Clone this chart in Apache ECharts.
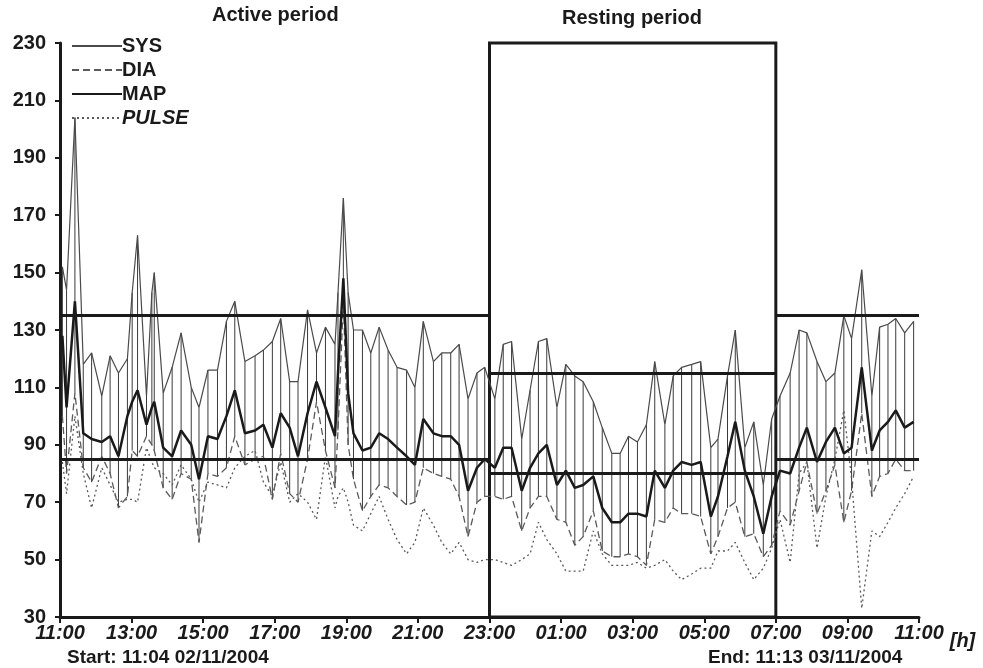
<!DOCTYPE html>
<html>
<head>
<meta charset="utf-8">
<script src="https://cdn.jsdelivr.net/npm/echarts@6/dist/echarts.min.js"></script>
<style>
  html, body { margin: 0; padding: 0; background: #fff; }
  #chart { width: 983px; height: 668px; }
</style>
</head>
<body>
<div id="chart"></div>
<script>
// measurement times (hh:mm), 02/11/2004 11:04 -> 03/11/2004
var times = ["11:04","11:11","11:25","11:39","11:53","12:10","12:24","12:38","12:53","13:01",
  "13:10","13:25","13:34","13:38","13:53","14:08","14:23","14:40","14:53","15:08",
  "15:24","15:39","15:53","16:10","16:27","16:41","16:56","17:10","17:25","17:39",
  "17:55","18:10","18:25","18:41","18:46","18:55","19:03","19:12","19:27","19:41",
  "19:55","20:10","20:25","20:41","20:55","21:09","21:26","21:40","21:55","22:09",
  "22:24","22:39","22:52","23:09","23:23","23:37","23:54","00:08","00:22","00:36",
  "00:53","01:08","01:23","01:37","01:54","02:09","02:25","02:39","02:53","03:08",
  "03:23","03:37","03:54","04:08","04:22","04:39","04:54","05:11","05:23","05:39",
  "05:52","06:08","06:23","06:39","06:53","07:07","07:24","07:39","07:52","08:09",
  "08:24","08:39","08:54","09:07","09:24","09:41","09:54","10:08","10:21","10:36","10:51"];

var sys = [152,144,204,118,122,107,121,115,120,143,
  163,107,143,150,108,117,129,110,103,116,
  116,133,140,119,121,123,126,134,112,112,
  137,122,131,125,143,176,143,130,130,122,
  131,123,117,116,110,133,119,122,122,125,
  106,115,117,106,125,126,92,109,126,127,
  103,118,114,112,105,96,87,87,93,91,
  97,119,97,114,117,118,119,89,92,114,
  130,89,98,76,99,107,115,130,129,119,
  112,115,135,127,151,107,131,132,134,129,133];

var dia = [100,80,108,82,77,86,80,68,72,88,
  86,93,90,88,75,71,80,78,56,80,
  79,82,93,83,85,86,71,87,73,70,
  85,105,88,75,95,140,90,78,67,72,
  76,75,72,69,70,82,80,79,78,72,
  58,70,72,72,71,72,60,68,72,72,
  64,63,55,58,67,53,51,51,52,51,
  48,64,63,68,66,66,65,52,58,68,
  70,58,59,51,55,67,62,74,84,66,
  74,83,63,74,101,72,79,80,85,81,81];

var map = [128,103,140,94,92,91,93,86,100,105,
  109,97,103,105,89,86,95,90,78,93,
  92,100,109,94,95,97,89,101,96,86,
  101,112,103,93,115,148,108,94,88,89,
  94,92,89,86,83,99,94,93,93,90,
  74,82,85,82,89,89,74,82,87,90,
  76,81,75,76,79,68,63,63,66,66,
  65,81,75,81,84,83,84,65,72,86,
  98,81,72,59,72,81,80,89,96,84,
  91,96,87,89,117,88,95,98,102,96,98];

var pulse = [84,73,100,80,68,82,76,70,71,71,
  70,89,84,82,80,76,83,78,70,77,
  76,75,82,86,88,77,72,84,70,73,
  70,64,86,68,72,75,70,62,60,66,
  72,64,57,52,56,68,62,56,52,56,
  50,49,50,50,49,48,50,52,63,57,
  52,46,46,46,60,52,48,48,48,49,
  47,48,50,46,43,45,47,47,53,53,
  56,49,43,47,54,64,49,80,84,54,
  72,85,102,78,33,60,58,63,68,73,79];

// limits per period: [from h, to h, systolic limit, diastolic limit]
var periods = [[11, 23, 135, 85], [23, 31, 115, 80], [31, 35, 135, 85]];
var restFrom = 23, restTo = 31;

var xTickLabels = ["11:00","13:00","15:00","17:00","19:00","21:00","23:00",
  "01:00","03:00","05:00","07:00","09:00","11:00"];

function toHour(s) {
  var p = s.split(':');
  var h = +p[0] + (+p[1]) / 60;
  return h < 11 ? h + 24 : h;
}

var hrs = times.map(toHour);
function pairs(arr) { return hrs.map(function (h, i) { return [h, arr[i]]; }); }

var limitLines = [];
periods.forEach(function (p) {
  limitLines.push([{ coord: [p[0], p[2]] }, { coord: [p[1], p[2]] }]);
  limitLines.push([{ coord: [p[0], p[3]] }, { coord: [p[1], p[3]] }]);
});

var font = '"Liberation Sans", Arial, sans-serif';

var chart = echarts.init(document.getElementById('chart'));
chart.setOption({
  animation: false,
  backgroundColor: '#fff',
  textStyle: { fontFamily: font },
  title: [
    { text: 'Active period', left: 207, top: 0,
      textStyle: { fontSize: 20, fontWeight: 'bold', color: '#1a1a1a', fontFamily: font } },
    { text: 'Resting period', left: 557, top: 3,
      textStyle: { fontSize: 20, fontWeight: 'bold', color: '#1a1a1a', fontFamily: font } },
    { text: 'Start: 11:04 02/11/2004', left: 62, top: 643,
      textStyle: { fontSize: 19, fontWeight: 'bold', color: '#1a1a1a', fontFamily: font } },
    { text: 'End: 11:13 03/11/2004', left: 703, top: 643,
      textStyle: { fontSize: 19, fontWeight: 'bold', color: '#1a1a1a', fontFamily: font } }
  ],
  legend: {
    orient: 'vertical',
    left: 66, top: 31,
    itemWidth: 50, itemHeight: 12, itemGap: 4,
    data: ['SYS', 'DIA', 'MAP', { name: 'PULSE', textStyle: { fontStyle: 'italic' } }],
    itemStyle: { opacity: 0 },
    textStyle: { fontSize: 20, fontWeight: 'bold', color: '#1a1a1a', fontFamily: font, padding: [0, 0, 0, -5] }
  },
  grid: { left: 60, right: 64, top: 43, bottom: 51 },
  xAxis: {
    type: 'value', min: 11, max: 35, interval: 2,
    name: '[h]', nameLocation: 'end', nameGap: 11,
    nameTextStyle: { fontSize: 20, fontWeight: 'bold', fontStyle: 'italic', color: '#1a1a1a',
      verticalAlign: 'top', padding: [14, 0, 0, 0] },
    axisLine: { lineStyle: { color: '#1a1a1a', width: 3 } },
    axisTick: { length: 6, lineStyle: { color: '#1a1a1a', width: 2 } },
    splitLine: { show: false },
    axisLabel: {
      margin: 6, fontSize: 20, fontWeight: 'bold', fontStyle: 'italic', color: '#1a1a1a',
      formatter: function (v) { return xTickLabels[Math.round((v - 11) / 2)]; }
    }
  },
  yAxis: {
    type: 'value', min: 30, max: 230, interval: 20,
    axisLine: { show: true, lineStyle: { color: '#1a1a1a', width: 3 } },
    axisTick: { show: true, length: 5, lineStyle: { color: '#1a1a1a', width: 2 } },
    splitLine: { show: false },
    axisLabel: { margin: 14, fontSize: 20, fontWeight: 'bold', color: '#1a1a1a' }
  },
  series: [
    {
      name: 'range', type: 'custom',
      data: hrs.map(function (h, i) { return [h, sys[i], dia[i]]; }),
      encode: { x: 0, y: [1, 2] },
      renderItem: function (params, api) {
        var a = api.coord([api.value(0), api.value(1)]);
        var b = api.coord([api.value(0), api.value(2)]);
        return { type: 'line', shape: { x1: a[0], y1: a[1], x2: b[0], y2: b[1] },
          style: { stroke: '#3a3a3a', lineWidth: 1 } };
      },
      silent: true, z: 1
    },
    {
      name: 'SYS', type: 'line', data: pairs(sys), symbol: 'none',
      lineStyle: { color: '#4a4a4a', width: 1.2 }, itemStyle: { color: '#1a1a1a' }, z: 2
    },
    {
      name: 'DIA', type: 'line', data: pairs(dia), symbol: 'none',
      lineStyle: { color: '#5a5a5a', width: 1.3, type: [7, 4] }, itemStyle: { color: '#1a1a1a' }, z: 2
    },
    {
      name: 'PULSE', type: 'line', data: pairs(pulse), symbol: 'none',
      lineStyle: { color: '#5a5a5a', width: 1.3, type: [2, 3] }, itemStyle: { color: '#1a1a1a' }, z: 2
    },
    {
      name: 'MAP', type: 'line', data: pairs(map), symbol: 'none',
      lineStyle: { color: '#1a1a1a', width: 2.5 }, itemStyle: { color: '#1a1a1a' }, z: 3,
      markLine: {
        silent: true, symbol: 'none', label: { show: false },
        lineStyle: { color: '#1a1a1a', width: 3, type: 'solid' },
        data: limitLines
      },
      markArea: {
        silent: true,
        itemStyle: { color: 'rgba(0,0,0,0)', borderColor: '#1a1a1a', borderWidth: 3 },
        data: [[{ coord: [restFrom, 30] }, { coord: [restTo, 230] }]]
      }
    }
  ]
});
</script>
</body>
</html>
